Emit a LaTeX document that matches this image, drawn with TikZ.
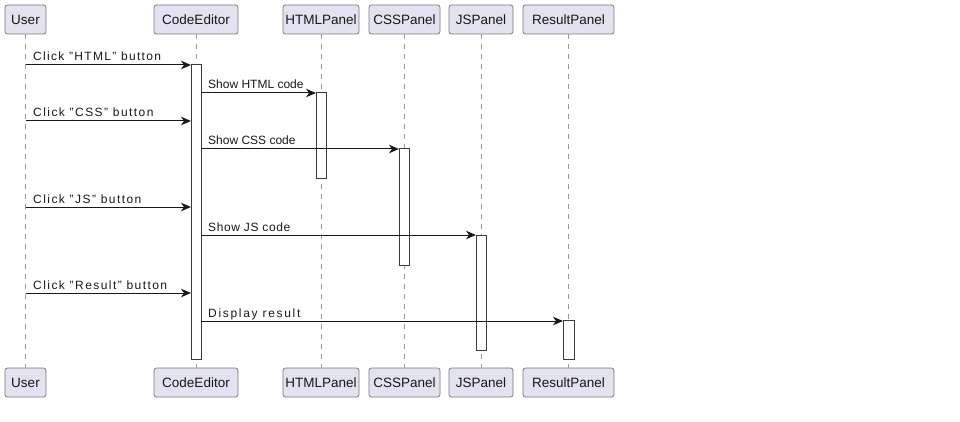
\documentclass[tikz,border=0pt]{standalone}
\usepackage{fontspec}
\setmainfont{Liberation Sans}
\usetikzlibrary{arrows.meta}
\definecolor{boxfill}{HTML}{E2E2F0}
\definecolor{boxdraw}{HTML}{7A7A7A}
\definecolor{ink}{HTML}{181818}
\definecolor{life}{HTML}{9A9A9A}
\newcommand{\lbl}[2]{{\addfontfeature{LetterSpace=#1}#2}}
\tikzset{
  part/.style={draw=boxdraw, fill=boxfill, rounded corners=2.5pt, line width=0.8pt,
    minimum height=29pt, inner sep=0pt, outer sep=0pt, font=\fontsize{13.5}{15}\selectfont, text=ink},
  lifeline/.style={draw=life, line width=0.8pt, dash pattern=on 5pt off 5pt},
  act/.style={draw=ink!85, fill=white, line width=1pt, minimum width=10pt, inner sep=0pt, outer sep=0pt},
  msg/.style={draw=ink, line width=1pt, -{Stealth[length=10pt,width=8.5pt,inset=3pt]}},
  mlabel/.style={anchor=base west, inner sep=0pt, font=\fontsize{12}{14}\selectfont, text=ink}
}
\begin{document}
\begin{tikzpicture}[x=1pt,y=-1pt]
\useasboundingbox (0,0) rectangle (960,422);
% top participants
\node[part, minimum width=41pt] (uT) at (25.5,19.5) {User};
\node[part, minimum width=84pt] (cT) at (196,19.5) {CodeEditor};
\node[part, minimum width=76pt] (hT) at (321,19.5) {HTMLPanel};
\node[part, minimum width=71pt] (sT) at (404.5,19.5) {CSSPanel};
\node[part, minimum width=64pt] (jT) at (481,19.5) {JSPanel};
\node[part, minimum width=91pt] (rT) at (568.5,19.5) {ResultPanel};
% bottom participants
\node[part, minimum width=41pt] (uB) at (25.5,382.5) {User};
\node[part, minimum width=84pt] (cB) at (196,382.5) {CodeEditor};
\node[part, minimum width=76pt] (hB) at (321,382.5) {HTMLPanel};
\node[part, minimum width=71pt] (sB) at (404.5,382.5) {CSSPanel};
\node[part, minimum width=64pt] (jB) at (481,382.5) {JSPanel};
\node[part, minimum width=91pt] (rB) at (568.5,382.5) {ResultPanel};
% lifelines
\foreach \p in {u,c,h,s,j,r}{
  \draw[lifeline] (\p T.south) -- (\p B.north);
}
% activation bars
\node[act, minimum height=294pt] (aC) at (196,212) {};
\node[act, minimum height=86pt] (aH) at (321,136) {};
\node[act, minimum height=116pt] (aS) at (404,207) {};
\node[act, minimum height=115pt] (aJ) at (481,292.5) {};
\node[act, minimum width=11pt, minimum height=39pt] (aR) at (568.5,339.5) {};
% message coordinates
\coordinate (m1) at (0,65);
\coordinate (m2) at (0,93);
\coordinate (m3) at (0,121);
\coordinate (m4) at (0,149);
\coordinate (m5) at (0,207);
\coordinate (m6) at (0,235);
\coordinate (m7) at (0,293);
\coordinate (m8) at (0,321);
% messages
\draw[msg] (uT.south |- m1) -- (aC.west |- m1);
\node[mlabel] (l1) at (33,61) {\lbl{11}{Click "HTML" button}};
\draw[msg] (aC.east |- m2) -- (aH.west |- m2);
\node[mlabel] (l2) at (208,89) {Show HTML code};
\draw[msg] (uT.south |- m3) -- (aC.west |- m3);
\node[mlabel] (l3) at (33,117) {\lbl{12}{Click "CSS" button}};
\draw[msg] (aC.east |- m4) -- (aS.west |- m4);
\node[mlabel] (l4) at (208,145) {Show CSS code};
\draw[msg] (uT.south |- m5) -- (aC.west |- m5);
\node[mlabel] (l5) at (33,203) {\lbl{12}{Click "JS" button}};
\draw[msg] (aC.east |- m6) -- (aJ.west |- m6);
\node[mlabel] (l6) at (208,231) {\lbl{5}{Show JS code}};
\draw[msg] (uT.south |- m7) -- (aC.west |- m7);
\node[mlabel] (l7) at (33,289) {\lbl{12}{Click "Result" button}};
\draw[msg] (aC.east |- m8) -- (aR.west |- m8);
\node[mlabel] (l8) at (208,317) {\lbl{14}{Display result}};
\end{tikzpicture}
\end{document}
